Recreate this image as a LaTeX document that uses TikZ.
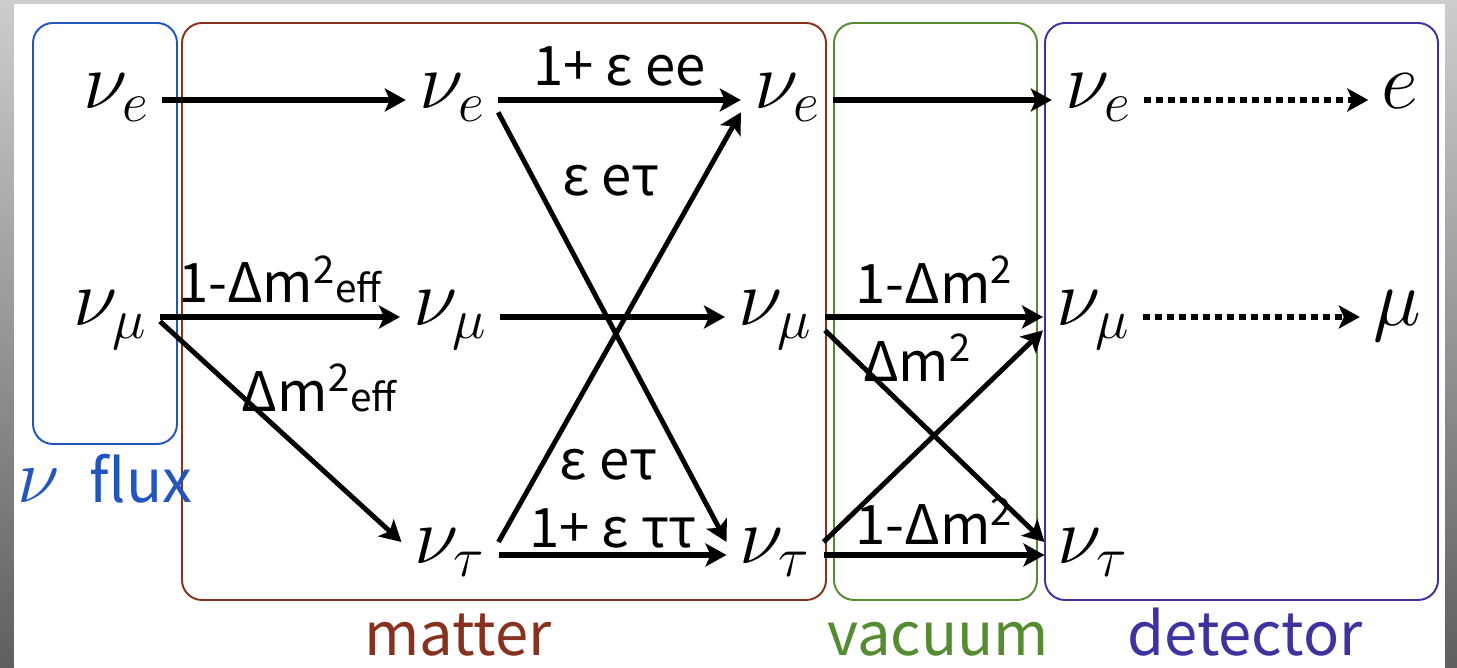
\RequirePackage{fix-cm}
\documentclass[tikz,border=0pt]{standalone}
\usepackage{fontspec}
\setsansfont{Noto Sans CJK JP}
\usepackage{tikz}
\usetikzlibrary{arrows.meta}

\definecolor{frametop}{RGB}{205,205,205}
\definecolor{framebot}{RGB}{95,95,95}
\definecolor{fluxblue}{RGB}{35,85,190}
\definecolor{matterbrown}{RGB}{135,50,30}
\definecolor{vacgreen}{RGB}{85,140,50}
\definecolor{detpurple}{RGB}{60,50,160}

\newcommand{\dmsq}{Δm\textsuperscript{2}}
\newcommand{\effsub}{{\fontsize{22}{22}\selectfont eff}}

\begin{document}
\begin{tikzpicture}[
  x=0.02cm, y=-0.02cm,
  nu/.style={inner xsep=0.26cm, inner ysep=0pt, text height=0.58cm, text depth=0.22cm, font=\fontsize{46}{50}\selectfont},
  lbl/.style={inner sep=0pt, font=\sffamily\fontsize{31}{34}\selectfont},
  region/.style={draw, rounded corners=0.4cm, line width=1.1pt},
  tag/.style={anchor=base, inner sep=0pt, font=\sffamily\fontsize{34}{38}\selectfont},
  op/.style={-{Stealth[length=0.42cm, width=0.46cm, inset=0.1cm]}, line width=3.4pt},
  cross/.style={op, line width=2.8pt},
  det/.style={op, dash pattern=on 0.14cm off 0.1cm}
]
  \useasboundingbox (0,0) rectangle (1457,668);
  \shade[top color=frametop, bottom color=framebot] (0,0) rectangle (1457,668);
  \fill[white] (14,4) rectangle (1445,668);

  \draw[region, fluxblue] (33,23) rectangle (177,444);
  \draw[region, matterbrown] (182,23) rectangle (826,600);
  \draw[region, vacgreen] (834,23) rectangle (1037,600);
  \draw[region, detpurple] (1045,23) rectangle (1438,600);

  \node[tag, fluxblue] (fluxtag) at (105,503) {{\fontsize{44}{44}\selectfont$\nu$}\enspace flux};
  \node[tag, matterbrown] (mattertag) at (458,655) {matter};
  \node[tag, vacgreen] (vactag) at (938,655) {vacuum};
  \node[tag, detpurple] (dettag) at (1245,655) {detector};

  \node[nu] (fluxe) at (116,100) {$\nu_e$};
  \node[nu] (fluxmu) at (110,317) {$\nu_\mu$};
  \node[nu] (mate) at (452,100) {$\nu_e$};
  \node[nu] (matmu) at (450,317) {$\nu_\mu$};
  \node[nu] (mattau) at (450,555) {$\nu_\tau$};
  \node[nu] (oute) at (787,100) {$\nu_e$};
  \node[nu] (outmu) at (775,317) {$\nu_\mu$};
  \node[nu] (outtau) at (775,555) {$\nu_\tau$};
  \node[nu] (dete) at (1098,100) {$\nu_e$};
  \node[nu] (detmu) at (1093,317) {$\nu_\mu$};
  \node[nu] (dettau) at (1093,555) {$\nu_\tau$};
  \node[nu] (ele) at (1400,100) {$e$};
  \node[nu] (muon) at (1397,317) {$\mu$};

  \draw[op] (fluxe) -- (mate);
  \draw[op] (fluxmu) -- (matmu) node[lbl, midway, above=6pt] {1-\dmsq\effsub};
  \draw[cross] (fluxmu.-5) -- (mattau.165) node[lbl, pos=0.3, right=4pt] {\dmsq\effsub};
  \draw[op] (mate) -- (oute) node[lbl, midway, above=6pt] {1+ ε ee};
  \draw[cross] (mate.-15) -- (outtau.165) node[lbl, pos=0.16, right=0.5cm] {ε eτ};
  \draw[cross] (mattau.15) -- (oute.195) node[lbl, pos=0.18, right=0.3cm] {ε eτ};
  \draw[op] (matmu) -- (outmu);
  \draw[op] (mattau) -- (outtau) node[lbl, midway, above=2pt] {1+ ε ττ};
  \draw[op] (oute) -- (dete);
  \draw[op] (outmu) -- (detmu) node[lbl, midway, above=6pt] {1-\dmsq};
  \draw[cross] (outmu.-15) -- (dettau.165) node[lbl, pos=0.13, right=4pt] {\dmsq};
  \draw[cross] (outtau.15) -- (detmu.195);
  \draw[op] (outtau) -- (dettau) node[lbl, midway, above=4pt] {1-\dmsq};
  \draw[det] (dete) -- (ele);
  \draw[det] (detmu) -- (muon);
\end{tikzpicture}
\end{document}
